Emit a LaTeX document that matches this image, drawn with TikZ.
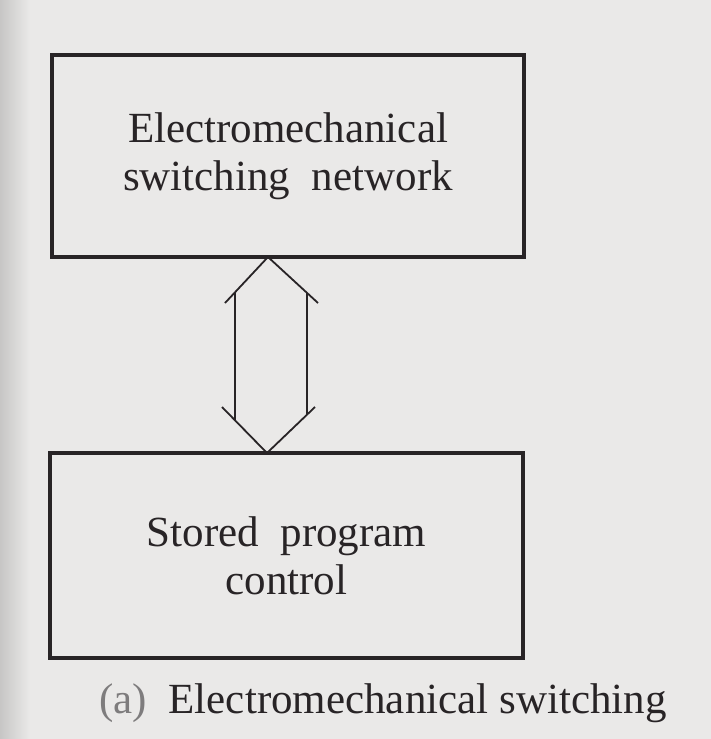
\documentclass[tikz,border=0pt]{standalone}
\usepackage{fontspec}
\setmainfont{Liberation Serif}
\definecolor{paper}{RGB}{234,233,232}
\definecolor{ink}{RGB}{40,36,38}
\begin{document}
\begin{tikzpicture}[x=0.5pt, y=-0.5pt,
    blockbox/.style={draw=ink, line width=1.7pt, fill=none, inner sep=0pt, align=center,
        text=ink, font=\fontsize{21.5}{24}\selectfont},
    flowline/.style={draw=ink, line width=0.9pt}]
    \fill[paper] (0,0) rectangle (711,739);
    \shade[left color=paper!85!black, right color=paper] (0,0) rectangle (30,739);
    \path[use as bounding box] (0,0) rectangle (711,739);
    \node[blockbox, minimum width=236pt, minimum height=101pt] (net) at (288,156)
        {Electromechanical\\switching\ \ network};
    \node[blockbox, minimum width=236.5pt, minimum height=102.5pt] (spc) at (286.5,555.5)
        {Stored\ \ program\\control};
    \coordinate (tipA) at (268,257);
    \coordinate (tipB) at (267,453);

    % double arrow between the blocks
    \draw[flowline] (225,303) -- (tipA) -- (318,303);
    \draw[flowline] (222,407) -- (tipB) -- (315,407);
    \draw[flowline] (235,293) -- (235,420);
    \draw[flowline] (307,293) -- (307,415);

    \node[anchor=base, inner sep=0pt, text=ink, font=\fontsize{21.5}{24}\selectfont] (cap) at (383,713)
        {{\color{ink!60}(a)}\ \ Electromechanical switching};
\end{tikzpicture}
\end{document}
